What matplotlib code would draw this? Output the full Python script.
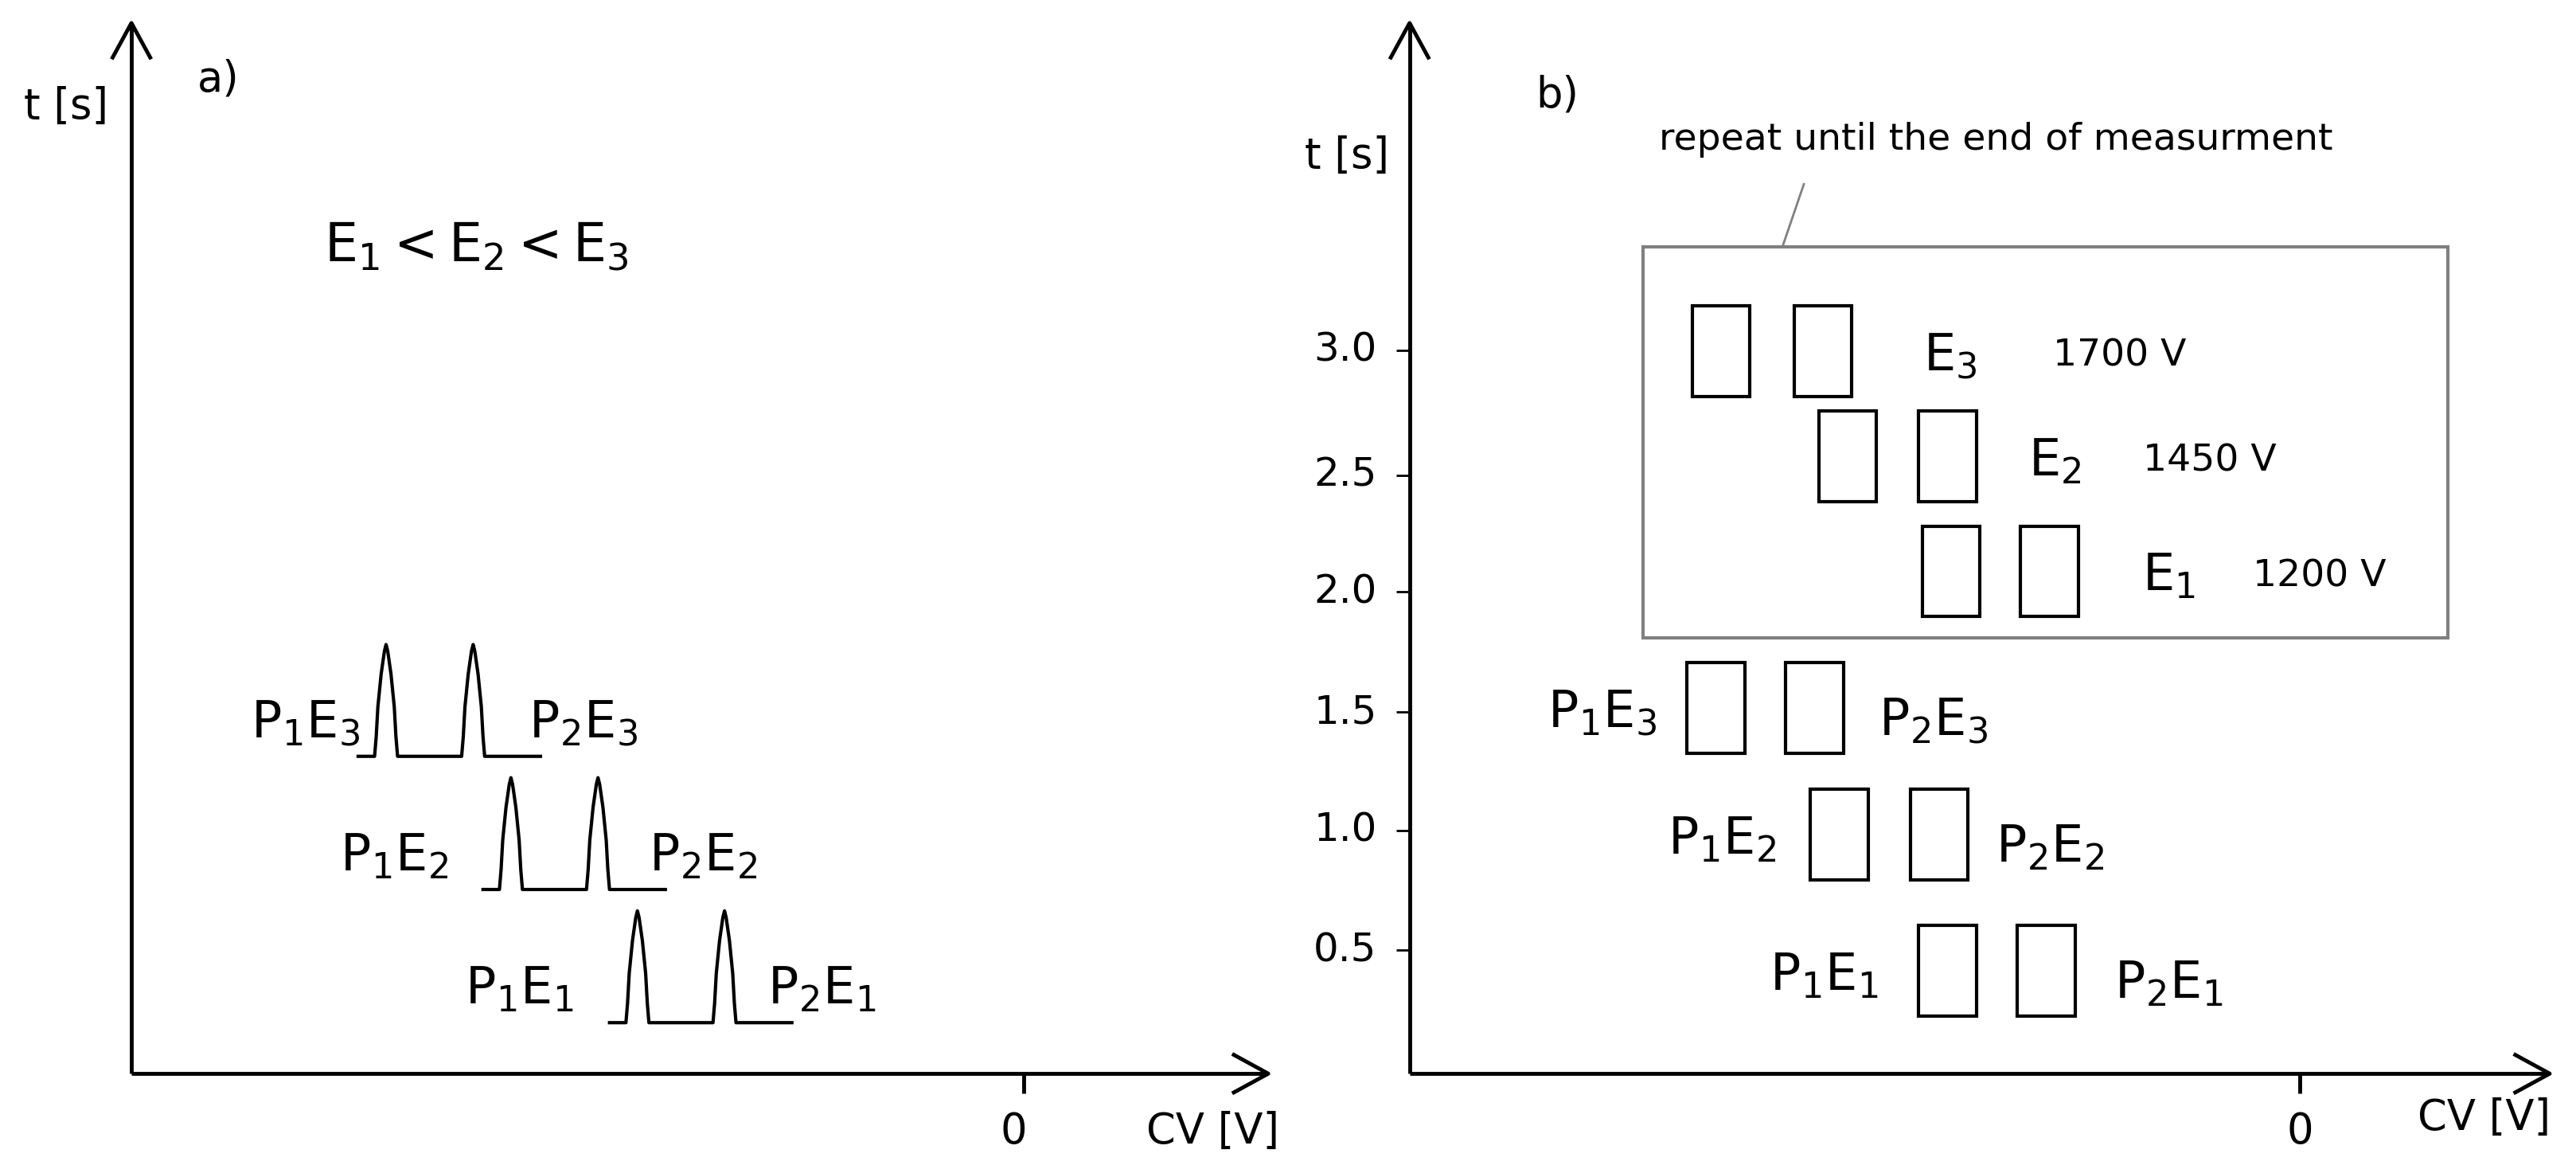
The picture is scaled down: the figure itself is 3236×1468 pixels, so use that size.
import matplotlib.pyplot as plt

# canvas works in a 1568 x 711 unit frame (scaled to 3236 x 1468 px)
W, H = 1568, 711

# panel a: peak traces, one row per field strength
peak_rows = ['E3', 'E2', 'E1']
trace_start = [217, 293, 370]
trace_base = [460, 541, 622]
peak_height = 68
p1_labels = [r'$\mathregular{P_1E_3}$', r'$\mathregular{P_1E_2}$', r'$\mathregular{P_1E_1}$']
p2_labels = [r'$\mathregular{P_2E_3}$', r'$\mathregular{P_2E_2}$', r'$\mathregular{P_2E_1}$']
p1_label_x = [186, 240, 316]
p2_label_x = [355, 428, 500]

# panel b: time ticks and measurement windows
t_ticks = [3.0, 2.5, 2.0, 1.5, 1.0, 0.5]
t_tick_y = [213, 289, 360, 433, 505, 578]
box_rect_x = [(1030, 1092), (1107, 1168), (1170, 1230)]
box_rect_y = [186, 250, 320]
box_E = [r'$\mathregular{E_3}$', r'$\mathregular{E_2}$', r'$\mathregular{E_1}$']
box_E_x = [1187, 1251, 1320]
box_V = ['1700 V', '1450 V', '1200 V']
box_V_x = [1290, 1345, 1412]
low_rect_x = [(1027, 1087), (1102, 1163), (1168, 1228)]
low_rect_y = [403, 480, 563]
low_p1_x = [975, 1048, 1110]
low_p2_x = [1177, 1248, 1320]
rect_w, rect_h = 35, 55

LW = 3.5
fig = plt.figure(figsize=(32.36, 14.68), dpi=100)
ax = fig.add_axes([0, 0, 1, 1])
ax.set_xlim(0, W)
ax.set_ylim(H, 0)
ax.axis('off')


def line(xs, ys, **kw):
    ax.plot(xs, ys, color='black', lw=kw.pop('lw', LW), solid_capstyle='butt', **kw)


def axes_frame(x0, x1, y0, ytop):
    line([x0, x0], [y0, ytop])
    line([x0 - 12, x0, x0 + 12], [ytop + 22, ytop, ytop + 22])
    line([x0, x1], [y0, y0])
    line([x1 - 22, x1, x1 - 22], [y0 - 12, y0, y0 + 12])


def peak(xc, base):
    xs = [xc - 7, xc - 6, xc - 5, xc - 3, xc - 1, xc, xc + 1, xc + 3, xc + 5, xc + 6, xc + 7]
    ys = [base, base - 12, base - 30, base - 50, base - peak_height + 4, base - peak_height,
          base - peak_height + 4, base - 50, base - 30, base - 12, base]
    return xs, ys


# ---- panel a
axes_frame(80, 772, 653, 14)
line([623, 623], [653, 665])
ax.text(40, 65, 't [s]', fontsize=38, ha='center', va='center')
ax.text(133, 48, 'a)', fontsize=38, ha='center', va='center')
ax.text(617, 688, '0', fontsize=38, ha='center', va='center')
ax.text(738, 688, 'CV [V]', fontsize=38, ha='center', va='center')
ax.text(290, 150, r'$\mathregular{E_1 < E_2 <E_3}$', fontsize=48, ha='center', va='center')

for i in range(3):
    x0, b = trace_start[i], trace_base[i]
    xa, ya = peak(x0 + 18, b)
    xb, yb = peak(x0 + 71, b)
    line([x0] + xa + xb + [x0 + 113], [b] + ya + yb + [b], lw=3)
    ax.text(p1_label_x[i], b - 20, p1_labels[i], fontsize=46, ha='center', va='center')
    ax.text(p2_label_x[i], b - 20, p2_labels[i], fontsize=46, ha='center', va='center')

# ---- panel b
axes_frame(858, 1552, 653, 14)
line([1400, 1400], [653, 665])
ax.text(820, 95, 't [s]', fontsize=38, ha='center', va='center')
ax.text(948, 58, 'b)', fontsize=38, ha='center', va='center')
ax.text(1400, 688, '0', fontsize=38, ha='center', va='center')
ax.text(1512, 680, 'CV [V]', fontsize=38, ha='center', va='center')
for t, y in zip(t_ticks, t_tick_y):
    line([850, 858], [y, y], lw=2)
    ax.text(838, y, f'{t:.1f}', fontsize=36, ha='right', va='center')

ax.add_patch(plt.Rectangle((1000, 150), 490, 238, fill=False, ec='#808080', lw=3))
ax.plot([1085, 1098], [150, 112], color='#808080', lw=2)
ax.text(1215, 85, 'repeat until the end of measurment', fontsize=34, ha='center', va='center')

for i in range(3):
    for x in box_rect_x[i]:
        ax.add_patch(plt.Rectangle((x, box_rect_y[i]), rect_w, rect_h, fill=False, ec='black', lw=3))
    cy = box_rect_y[i] + rect_h / 2
    ax.text(box_E_x[i], cy + 3, box_E[i], fontsize=46, ha='center', va='center')
    ax.text(box_V_x[i], cy + 3, box_V[i], fontsize=34, ha='center', va='center')
    for x in low_rect_x[i]:
        ax.add_patch(plt.Rectangle((x, low_rect_y[i]), rect_w, rect_h, fill=False, ec='black', lw=3))
    cy = low_rect_y[i] + rect_h / 2
    ax.text(low_p1_x[i], cy + 3, p1_labels[i], fontsize=46, ha='center', va='center')
    ax.text(low_p2_x[i], cy + 8, p2_labels[i], fontsize=46, ha='center', va='center')

fig.savefig('out.png', dpi=100)
